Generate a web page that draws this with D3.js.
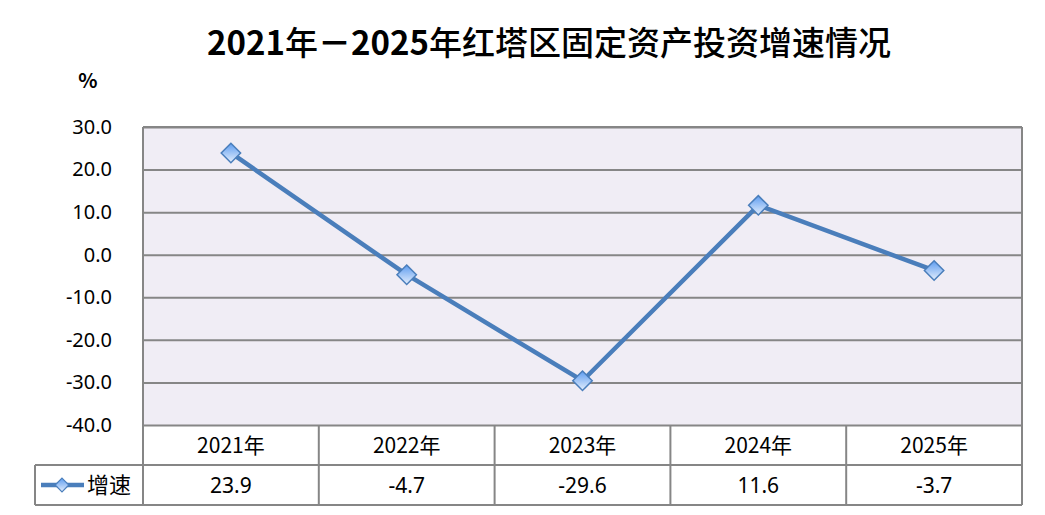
<!DOCTYPE html>
<html>
  <head>
    <meta charset="UTF-8">
    <title>红塔区固定资产投资增速</title>
    <script src="https://d3js.org/d3.v7.min.js"></script>
    <style>
      body { margin: 0; background: #fff; }
      text { font-family: "Noto Sans CJK SC", "Noto Sans", sans-serif; fill: #000; }
    </style>
  </head>
  <body>
    <div id="chart"></div>
    <script>
      // 数据
      const years = ["2021年", "2022年", "2023年", "2024年", "2025年"];
      const growth = [23.9, -4.7, -29.6, 11.6, -3.7];
      const yTicks = [30, 20, 10, 0, -10, -20, -30, -40];
      const seriesName = "增速";
      const title = "2021年－2025年红塔区固定资产投资增速情况";

      const width = 1045, height = 515;
      const plot = { left: 143, right: 1022, top: 127, bottom: 425 };
      const rowH = 40;

      const svg = d3.select("#chart").append("svg")
        .attr("width", width).attr("height", height);

      const defs = svg.append("defs");
      const grad = defs.append("linearGradient").attr("id", "mk")
        .attr("x1", 0).attr("y1", 0).attr("x2", 0).attr("y2", 1);
      grad.append("stop").attr("offset", "0%").attr("stop-color", "#5d9cf0");
      grad.append("stop").attr("offset", "100%").attr("stop-color", "#e4eefc");

      const x = d3.scaleBand().domain(years).range([plot.left, plot.right]);
      const y = d3.scaleLinear().domain([-40, 30]).range([plot.bottom, plot.top]);
      const fmt = d => d.toFixed(1);

      // 标题：数字加粗，汉字稍细
      const t = svg.append("text").attr("x", 549).attr("y", 55)
        .attr("text-anchor", "middle").attr("font-size", 33);
      title.match(/[0-9－]+|[^0-9－]+/g).forEach(part => {
        t.append("tspan").attr("font-weight", /[0-9－]/.test(part) ? "bold" : 500).text(part);
      });

      svg.append("text").attr("x", 88).attr("y", 88)
        .attr("text-anchor", "middle").attr("font-size", 20).attr("font-weight", "bold")
        .text("%");

      // 绘图区
      svg.append("rect").attr("x", plot.left).attr("y", plot.top)
        .attr("width", plot.right - plot.left).attr("height", plot.bottom - plot.top)
        .attr("fill", "#f0edf5");

      const yAxis = d3.axisLeft(y).tickValues(yTicks)
        .tickFormat(fmt).tickSize(-(plot.right - plot.left)).tickPadding(31);
      const gy = svg.append("g").attr("transform", `translate(${plot.left},0)`).call(yAxis);
      gy.select(".domain").remove();
      gy.selectAll(".tick line").attr("stroke", "#868686").attr("stroke-width", 2);
      gy.selectAll(".tick text").attr("font-size", 20)
        .style("font-family", "'Noto Sans', sans-serif").attr("fill", "#000");

      // 数据表
      const tb = svg.append("g").attr("stroke", "#868686").attr("stroke-width", 2).attr("fill", "none");
      tb.append("line").attr("x1", plot.left).attr("x2", plot.left).attr("y1", plot.top).attr("y2", plot.bottom + 2 * rowH);
      tb.append("line").attr("x1", plot.right).attr("x2", plot.right).attr("y1", plot.top).attr("y2", plot.bottom + 2 * rowH);
      tb.append("line").attr("x1", plot.left).attr("x2", plot.right).attr("y1", plot.top).attr("y2", plot.top);
      tb.append("line").attr("x1", 35).attr("x2", plot.right).attr("y1", plot.bottom + rowH).attr("y2", plot.bottom + rowH);
      tb.append("line").attr("x1", 35).attr("x2", plot.right).attr("y1", plot.bottom + 2 * rowH).attr("y2", plot.bottom + 2 * rowH);
      tb.append("line").attr("x1", 35).attr("x2", 35).attr("y1", plot.bottom + rowH).attr("y2", plot.bottom + 2 * rowH);
      years.slice(1).forEach(d => {
        tb.append("line").attr("x1", x(d)).attr("x2", x(d)).attr("y1", plot.bottom).attr("y2", plot.bottom + 2 * rowH);
      });

      svg.selectAll(".cat").data(years).enter().append("text")
        .attr("x", d => x(d) + x.bandwidth() / 2).attr("y", plot.bottom + 28)
        .attr("text-anchor", "middle").attr("font-size", 21).text(d => d);
      svg.selectAll(".val").data(growth).enter().append("text")
        .attr("x", (d, i) => x(years[i]) + x.bandwidth() / 2).attr("y", plot.bottom + rowH + 28)
        .attr("text-anchor", "middle").attr("font-size", 21)
        .style("font-family", "'Noto Sans', sans-serif").text(fmt);

      // 折线
      const pts = growth.map((v, i) => [x(years[i]) + x.bandwidth() / 2, y(v)]);
      svg.append("path").datum(pts).attr("d", d3.line())
        .attr("fill", "none").attr("stroke", "#4a7ebb").attr("stroke-width", 4.5);

      const diamond = d3.symbol().type(d3.symbolDiamond2).size(240);
      svg.selectAll(".mk").data(pts).enter().append("path")
        .attr("transform", d => `translate(${d[0]},${d[1]})`)
        .attr("d", diamond).attr("fill", "url(#mk)").attr("stroke", "#4a7ebb").attr("stroke-width", 1.5);

      // 图例
      const ly = plot.bottom + rowH + rowH / 2;
      svg.append("line").attr("x1", 41).attr("x2", 84).attr("y1", ly).attr("y2", ly)
        .attr("stroke", "#4a7ebb").attr("stroke-width", 4.5);
      svg.append("path").attr("transform", `translate(62,${ly})`)
        .attr("d", d3.symbol().type(d3.symbolDiamond2).size(120)).attr("fill", "url(#mk)")
        .attr("stroke", "#4a7ebb").attr("stroke-width", 1.2);
      svg.append("text").attr("x", 87).attr("y", ly + 8).attr("font-size", 22).text(seriesName);
    </script>
  </body>
</html>
